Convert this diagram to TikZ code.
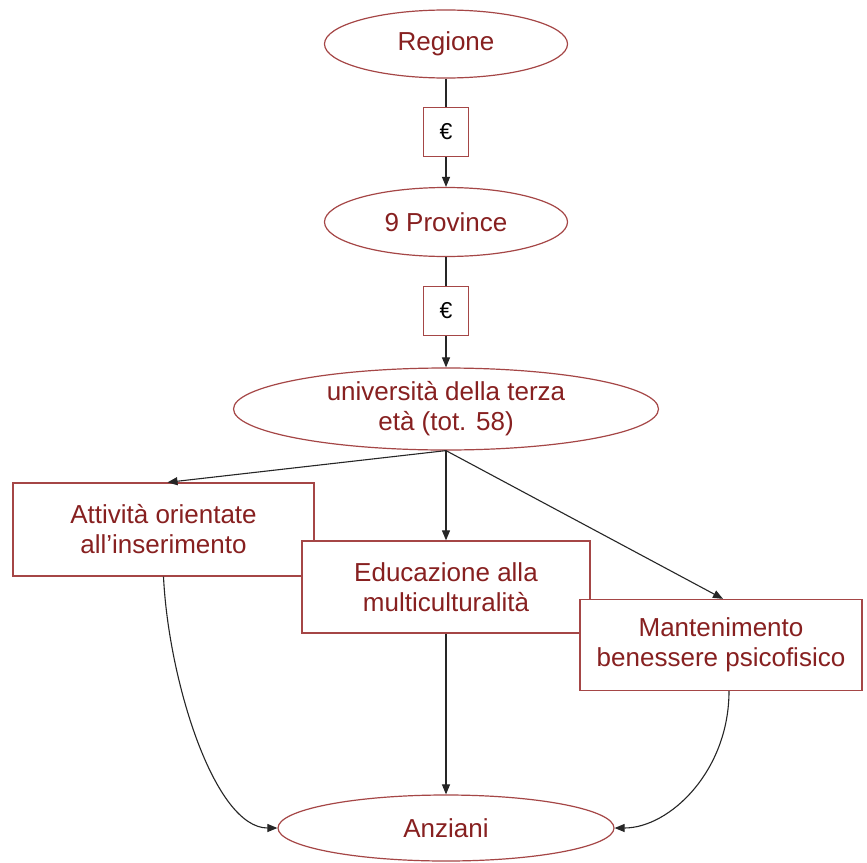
\documentclass[tikz,border=0pt]{standalone}
\usepackage{fontspec}
\setmainfont{Liberation Sans}
\usetikzlibrary{shapes.geometric,arrows.meta}
\definecolor{txtred}{RGB}{135,32,32}
\definecolor{edgered}{RGB}{165,70,70}
\begin{document}
\begin{tikzpicture}[x=1pt,y=-1pt,
  every node/.style={font=\fontsize{26}{30}\selectfont, text=txtred},
  oval/.style={ellipse, draw=edgered, line width=1.2pt, fill=white, inner sep=0pt, align=center},
  card/.style={rectangle, draw=edgered, line width=1.3pt, fill=white, inner sep=0pt, align=center},
  euro/.style={rectangle, draw=edgered, line width=1.2pt, fill=white,
    minimum width=45pt, minimum height=49pt, inner sep=0pt, text=black,
    font=\fontsize{23}{25}\selectfont},
  link/.style={draw=black!85, line width=1.1pt},
  flow/.style={link, -{Triangle[length=10pt,width=8pt]}}
]
% canvas
\fill[white] (0,0) rectangle (867,862);
\useasboundingbox (0,0) rectangle (867,862);

% funding chain
\node[oval, minimum width=243pt, minimum height=68pt] (reg) at (446,44) {Regione};
\node[euro] (e1) at (446,132) {€};
\node[oval, minimum width=243pt, minimum height=69pt] (prov) at (446,222) {9 Province};
\node[euro] (e2) at (446,311) {€};
\node[oval, minimum width=425pt, minimum height=82pt] (uni) at (446,409)
  {università della terza\\età (tot. 58)};

% activity areas, each one laid over the previous
\node[card, minimum width=301pt, minimum height=93pt] (att) at (163.5,529.5)
  {Attività orientate\\all’inserimento};
\node[card, minimum width=288pt, minimum height=92pt] (edu) at (446,587)
  {Educazione alla\\multiculturalità};
\node[card, minimum width=282pt, minimum height=91pt] (man) at (721,645)
  {Mantenimento\\benessere psicofisico};

% beneficiaries
\node[oval, minimum width=336pt, minimum height=66pt] (anz) at (446,828) {Anziani};

% connectors
\draw[link] (reg.south) -- (e1.north);
\draw[flow] (e1.south) -- (prov.north);
\draw[link] (prov.south) -- (e2.north);
\draw[flow] (e2.south) -- (uni.north);
\draw[flow] (uni.south) -- ([xshift=4pt]att.north);
\draw[flow] (uni.south) -- (edu.north);
\draw[flow] (uni.south) -- ([xshift=2pt]man.north);
\draw[flow] (edu.south) -- (anz.north);
\draw[flow] (att.south) .. controls +(5,104) and +(-63,0) .. (anz.west);
\draw[flow] ([xshift=8pt]man.south) .. controls +(0,80) and +(55,0) .. (anz.east);
\end{tikzpicture}
\end{document}
